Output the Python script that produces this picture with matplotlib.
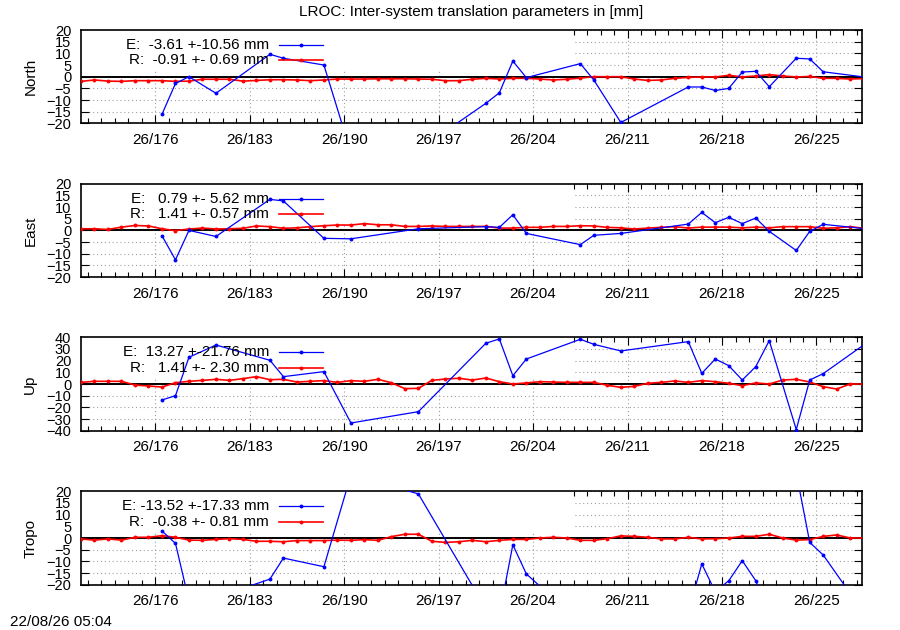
import numpy as np
import matplotlib
matplotlib.use("Agg")
import matplotlib.pyplot as plt
from matplotlib.lines import Line2D
from matplotlib.patches import Rectangle
from matplotlib.ticker import MultipleLocator, FuncFormatter

plt.rcParams['font.family'] = ['Liberation Sans', 'DejaVu Sans']
plt.rcParams['font.size'] = 11

# daily reference solution (R), epochs at noon
r_days = [170.5, 171.5, 172.5, 173.5, 174.5, 175.5, 176.5, 177.5, 178.5, 179.5,
          180.5, 181.5, 182.5, 183.5, 184.5, 185.5, 186.5, 187.5, 188.5, 189.5,
          190.5, 191.5, 192.5, 193.5, 194.5, 195.5, 196.5, 197.5, 198.5, 199.5,
          200.5, 201.5, 202.5, 203.5, 204.5, 205.5, 206.5, 207.5, 208.5, 209.5,
          210.5, 211.5, 212.5, 213.5, 214.5, 215.5, 216.5, 217.5, 218.5, 219.5,
          220.5, 221.5, 222.5, 223.5, 224.5, 225.5, 226.5, 227.5, 228.5]

r_north = [-2.0, -1.4, -1.9, -2.0, -1.7, -1.7, -1.7, -2.0, -1.9, -1.1,
           -1.1, -1.1, -1.9, -1.6, -1.3, -1.3, -1.4, -1.7, -1.4, -1.0,
           -1.0, -1.0, -0.9, -0.9, -0.9, -1.0, -1.1, -1.7, -1.7, -1.1,
           -0.7, -1.0, -0.7, -0.7, -1.0, -1.4, -1.1, -0.6, 0.0, 0.0,
           0.0, -1.0, -1.6, -1.4, -0.7, -0.3, -0.1, -0.1, 0.6, -0.1,
           0.3, 0.9, 0.3, -0.1, 0.1, -0.7, -0.7, -1.0, -0.8]
r_east = [0.7, 0.7, 0.4, 1.4, 2.1, 1.9, 0.7, -0.1, 0.6, 1.0,
          0.6, 0.7, 0.9, 1.9, 1.6, 0.9, 1.1, 1.6, 2.0, 2.3,
          2.3, 2.9, 2.4, 2.4, 1.7, 1.7, 1.9, 1.7, 1.7, 1.7,
          1.7, 1.0, 1.0, 1.3, 1.3, 1.7, 1.7, 2.0, 1.9, 1.3,
          1.1, 0.6, 1.0, 1.3, 1.6, 1.0, 1.4, 1.4, 1.4, 1.1,
          1.4, 1.1, 1.6, 1.6, 1.6, 0.9, 1.1, 1.6, 0.9]
r_up = [1.4, 2.3, 2.3, 2.3, -0.9, -1.7, -2.6, 1.1, 2.3, 3.1,
        4.0, 3.1, 4.6, 6.3, 3.7, 4.0, 1.7, 2.3, 2.9, 1.4,
        2.9, 2.3, 4.0, 1.1, -4.0, -3.7, 3.1, 4.3, 4.9, 3.4,
        5.1, 2.0, 0.0, 0.9, 2.0, 1.7, 1.4, 1.4, 1.4, -1.1,
        -2.9, -2.0, 0.6, 1.4, 2.6, 1.4, 2.9, 2.0, 0.6, -1.4,
        0.9, 0.0, 3.4, 4.0, 1.7, -2.3, -4.3, 0.0, 0.0]
r_tropo = [-0.4, -0.9, -0.4, -0.9, 0.3, 0.3, 1.0, 0.3, -0.9, -1.0,
           -0.6, -0.3, -0.6, -1.4, -1.4, -1.6, -1.1, -1.1, -1.1, -0.9,
           -1.0, -0.7, -1.0, 0.6, 1.6, 1.6, -1.4, -1.9, -1.6, -1.0,
           -1.6, -1.0, -0.6, -0.6, 0.0, 0.3, 0.0, -1.0, -1.0, -0.3,
           0.9, 0.7, 0.3, -0.4, -0.4, 0.3, -0.4, -0.3, 0.0, 0.7,
           0.7, 1.6, 0.0, -0.9, -0.7, 0.7, 1.3, 0.0, 0.0]

# external solution (E), irregular epochs
e_days = [176.5, 177.5, 178.5, 180.5, 184.5, 185.5, 188.5, 190.5, 195.5,
          200.5, 201.5, 202.5, 203.5, 207.5, 208.5, 210.5, 215.5, 216.5,
          217.5, 218.5, 219.5, 220.5, 221.5, 223.5, 224.5, 225.5, 228.5]

e_north = [-16.1, -2.9, 0.0, -7.1, 9.6, 7.9, 5.0, -32.6, -31.4,
           -11.4, -6.9, 6.7, -0.4, 5.6, -1.4, -19.6, -4.4, -4.4,
           -5.9, -5.0, 2.0, 2.3, -4.3, 7.9, 7.6, 2.1, -0.1]
e_east = [-2.3, -12.6, 0.0, -2.6, 13.3, 12.6, -3.4, -3.6, 0.7,
          1.6, 1.3, 6.7, -1.3, -6.1, -2.1, -1.3, 2.7, 7.7,
          3.3, 5.6, 2.9, 5.3, -0.4, -8.6, -0.4, 2.6, 0.8]
e_up = [-13.7, -10.0, 22.9, 33.4, 20.3, 6.3, 10.6, -33.4, -23.7,
        34.9, 38.6, 7.1, 21.4, 38.3, 34.0, 28.3, 36.3, 9.1,
        21.4, 15.7, 3.4, 14.9, 37.1, -39.0, 3.4, 8.9, 33.5]
e_tropo = [3.0, -2.3, -26.9, -25.5, -17.6, -8.6, -12.3, 27.0, 18.9,
           -30.2, -32.9, -2.9, -15.4, -36.1, -37.0, -38.0, -31.8, -11.1,
           -23.0, -18.3, -9.7, -18.3, -33.0, 28.0, -1.9, -7.3, -32.0]

panel_names = ['North', 'East', 'Up', 'Tropo']
e_mean = [-3.61, 0.79, 13.27, -13.52]
e_rms = [10.56, 5.62, 21.76, 17.33]
r_mean = [-0.91, 1.41, 1.41, -0.38]
r_rms = [0.69, 0.57, 2.30, 0.81]
y_limits = [20, 20, 40, 20]
y_steps = [5, 5, 10, 5]

e_series = [e_north, e_east, e_up, e_tropo]
r_series = [r_north, r_east, r_up, r_tropo]

xmin, xmax = 170.5, 228.35
panel_tops = [30, 183.7, 337.3, 491.3]
panel_h = 93.4
W, H = 900, 630
left_px, right_px = 81, 861.7


def gnuplot_line(ax, x, y, lo, hi, color, lw):
    # mimic gnuplot "set clip one; unset clip two":
    # segments with both ends out of range are not drawn, nor are such points
    x = np.asarray(x, float)
    y = np.asarray(y, float)
    inside = (y >= lo) & (y <= hi)
    xs, ys = [], []
    for i in range(len(x)):
        if i > 0 and not inside[i - 1] and not inside[i]:
            xs.append(np.nan)
            ys.append(np.nan)
        xs.append(x[i])
        ys.append(y[i])
    ax.plot(xs, ys, '-', color=color, lw=lw, zorder=3)
    ax.plot(x[inside], y[inside], 'o', color=color, ms=2.8, mew=0, zorder=3)


fig = plt.figure(figsize=(9, 6.3), dpi=100)

for k in range(4):
    top = panel_tops[k]
    ax = fig.add_axes([left_px / W, 1 - (top + panel_h) / H,
                       (right_px - left_px) / W, panel_h / H])
    lim = y_limits[k]

    gnuplot_line(ax, r_days, r_series[k], -lim, lim, '#ff0000', 1.2)
    gnuplot_line(ax, e_days, e_series[k], -lim, lim, '#0000ff', 0.9)
    ax.axhline(0, color='black', lw=1.4, zorder=2)

    ax.set_xlim(xmin, xmax)
    ax.set_ylim(-lim, lim)
    ax.xaxis.set_major_locator(MultipleLocator(7, offset=1))
    ax.xaxis.set_minor_locator(MultipleLocator(1))
    ax.xaxis.set_major_formatter(FuncFormatter(lambda v, p: '26/%d' % round(v)))
    ax.yaxis.set_major_locator(MultipleLocator(y_steps[k]))
    ax.tick_params(which='both', direction='in', top=True, right=True)
    ax.tick_params(which='major', length=6, width=0.8)
    ax.tick_params(which='minor', length=3.5, width=0.8)
    ax.tick_params(axis='x', pad=7)
    ax.tick_params(axis='y', pad=7, labelsize=10.5)
    for s in ax.spines.values():
        s.set_linewidth(1.2)

    ax.set_axisbelow(True)
    ax.grid(True, which='major', color='#a0a0a0', ls=(0, (1, 2.5)), lw=0.8)
    # opaque key area hides the grid
    ax.add_patch(Rectangle((0, 0.56), 0.63, 0.44, transform=ax.transAxes,
                           facecolor='white', edgecolor='none', zorder=1))

    ax.set_ylabel(panel_names[k])
    ax.yaxis.set_label_coords(-0.056, 0.5)

    # key
    labels = ['E: %6.2f +-%5.2f mm' % (e_mean[k], e_rms[k]),
              'R: %6.2f +-%5.2f mm' % (r_mean[k], r_rms[k])]
    for lab, yk, col, lw in zip(labels, [0.838, 0.676], ['#0000ff', '#ff0000'], [0.9, 1.2]):
        ax.text(0.241, yk, lab, transform=ax.transAxes,
                ha='right', va='center', zorder=4)
        ax.add_line(Line2D([0.254, 0.282, 0.31], [yk, yk, yk], transform=ax.transAxes,
                           color=col, lw=lw, marker='o', ms=2.8, mew=0,
                           markevery=[1], zorder=4))

fig.text(471 / W, 1 - 12 / H, 'LROC: Inter-system translation parameters in [mm]',
         ha='center', va='center')
fig.text(10 / W, 1 - 622 / H, '22/08/26 05:04', ha='left', va='center')

fig.savefig('out.png', dpi=100)
